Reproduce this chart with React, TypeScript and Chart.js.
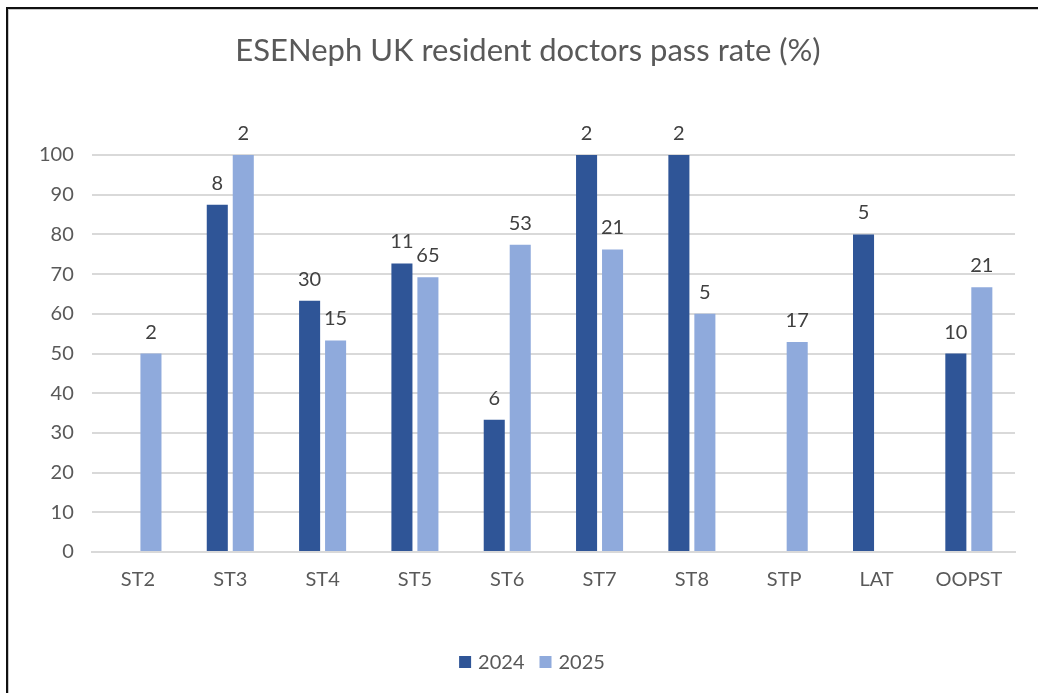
import React, { useEffect, useRef } from "react";
import { Chart, registerables } from "chart.js";

Chart.register(...registerables);

const categories = ["ST2", "ST3", "ST4", "ST5", "ST6", "ST7", "ST8", "STP", "LAT", "OOPST"];
const seriesNames = ["2024", "2025"];
const seriesColors = ["#2F5597", "#8FAADC"];
const passRate2024: (number | null)[] = [null, 87.5, 63.3, 72.7, 33.3, 100, 100, null, 80, 50];
const passRate2025: (number | null)[] = [50, 100, 53.3, 69.2, 77.4, 76.2, 60, 52.9, null, 66.7];
const candidates2024: (number | null)[] = [null, 8, 30, 11, 6, 2, 2, null, 5, 10];
const candidates2025: (number | null)[] = [2, 2, 15, 65, 53, 21, 5, 17, null, 21];
const yTicks = [0, 10, 20, 30, 40, 50, 60, 70, 80, 90, 100];
const titleText = "ESENeph UK resident doctors pass rate (%)";

const FONT = "Lato, 'Open Sans', sans-serif";

const labelPlugin = {
  id: "countLabels",
  afterDatasetsDraw(chart: any) {
    const ctx = chart.ctx;
    const counts = [candidates2024, candidates2025];
    ctx.save();
    ctx.font = `20px ${FONT}`;
    ctx.fillStyle = "#404040";
    ctx.textAlign = "center";
    ctx.textBaseline = "alphabetic";
    chart.data.datasets.forEach((ds: any, di: number) => {
      const meta = chart.getDatasetMeta(di);
      meta.data.forEach((el: any, i: number) => {
        const c = counts[di][i];
        if (c === null || ds.data[i] === null) return;
        ctx.fillText(String(c), el.x, el.y - 15);
      });
    });
    ctx.restore();
  },
};

const titleLegendPlugin = {
  id: "titleLegend",
  afterDraw(chart: any) {
    const ctx = chart.ctx;
    ctx.save();
    // title
    ctx.font = `31px ${FONT}`;
    ctx.fillStyle = "#595959";
    ctx.textAlign = "center";
    ctx.textBaseline = "middle";
    ctx.fillText(titleText, 528, 51);
    // legend
    ctx.font = `20px ${FONT}`;
    ctx.textAlign = "left";
    const box = 12;
    const gap = 7;
    const itemGap = 15;
    const widths = seriesNames.map((n) => ctx.measureText(n).width);
    const total = widths.reduce((a, w) => a + box + gap + w, 0) + itemGap * (seriesNames.length - 1);
    let x = 532 - total / 2;
    const cy = 662;
    seriesNames.forEach((n, i) => {
      ctx.fillStyle = seriesColors[i];
      ctx.fillRect(x, cy - box / 2, box, box);
      ctx.fillStyle = "#595959";
      ctx.fillText(n, x + box + gap, cy + 1);
      x += box + gap + widths[i] + itemGap;
    });
    ctx.restore();
  },
};

export default function App() {
  const ref = useRef<HTMLCanvasElement>(null);
  useEffect(() => {
    if (!ref.current) return;
    const chart = new Chart(ref.current, {
      type: "bar",
      data: {
        labels: categories,
        datasets: [
          {
            label: seriesNames[0],
            data: passRate2024,
            backgroundColor: seriesColors[0],
            borderColor: seriesColors[0],
            categoryPercentage: 0.563,
            barPercentage: 0.81,
          },
          {
            label: seriesNames[1],
            data: passRate2025,
            backgroundColor: seriesColors[1],
            borderColor: seriesColors[1],
            categoryPercentage: 0.563,
            barPercentage: 0.81,
          },
        ],
      },
      options: {
        responsive: false,
        animation: false,
        devicePixelRatio: 1,
        layout: { padding: { left: 21, right: 23, top: 155, bottom: 0 } },
        scales: {
          x: {
            grid: { display: false, drawTicks: false },
            border: { display: true, color: "#d9d9d9", width: 2 },
            ticks: { color: "#595959", font: { family: FONT, size: 20 }, padding: 16 },
            afterFit: (axis: any) => {
              axis.height = 141;
            },
          },
          y: {
            min: 0,
            max: 100,
            afterBuildTicks: (axis: any) => {
              axis.ticks = yTicks.map((v) => ({ value: v }));
            },
            grid: { color: "#d9d9d9", lineWidth: 2, drawTicks: false },
            border: { display: false },
            ticks: { color: "#595959", font: { family: FONT, size: 20 }, padding: 18 },
          },
        },
        plugins: {
          title: { display: false },
          legend: { display: false },
          tooltip: { enabled: false },
        },
      },
      plugins: [labelPlugin, titleLegendPlugin],
    });
    return () => chart.destroy();
  }, []);

  return (
    <div style={{ position: "absolute", left: 0, top: 0, width: 1038, height: 693, background: "#fff", overflow: "hidden" }}>
      <canvas ref={ref} width={1038} height={693} style={{ position: "absolute", left: 0, top: 0 }} />
      <div
        style={{
          position: "absolute",
          left: 6,
          top: 7,
          width: 1040,
          height: 700,
          borderTop: "2px solid #111",
          borderLeft: "2px solid #111",
          pointerEvents: "none",
        }}
      >
        <div
          style={{
            position: "absolute",
            left: 0,
            top: 0,
            width: 1040,
            height: 700,
            borderTop: "1px solid #c8c8c8",
            borderLeft: "1px solid #c8c8c8",
          }}
        />
      </div>
    </div>
  );
}
